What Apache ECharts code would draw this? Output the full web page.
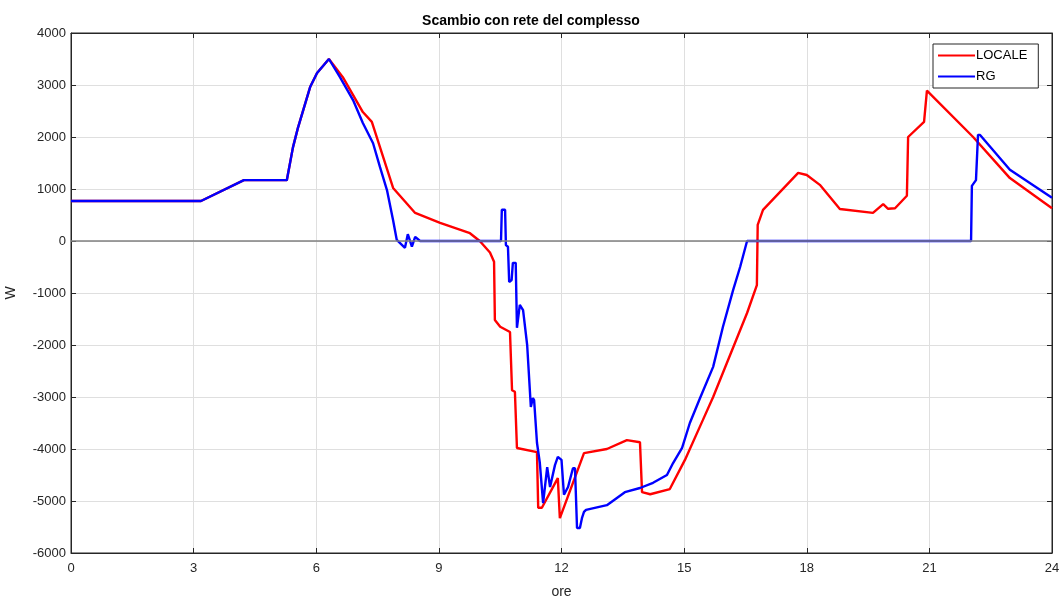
<!DOCTYPE html>
<html>
<head>
<meta charset="utf-8">
<script src="https://cdn.jsdelivr.net/npm/echarts@6/dist/echarts.min.js"></script>
<style>
  html, body { margin: 0; padding: 0; background: #fff; }
  #chart { width: 1062px; height: 598px; }
</style>
</head>
<body>
<div id="chart"></div>
<script>
  // ore / W
  const localeOre = [0, 3.18, 4.23, 5.28, 5.43, 5.55, 5.85, 6.02, 6.31, 6.65, 7.14, 7.36, 7.88, 8.42, 9.03, 9.76, 10.0, 10.25, 10.35, 10.37, 10.5, 10.74, 10.79, 10.86, 10.91, 11.4, 11.43, 11.52, 11.91, 11.96, 12.55, 13.11, 13.6, 13.92, 13.97, 14.17, 14.65, 15.02, 15.46, 15.71, 16.54, 16.78, 16.8, 16.93, 17.79, 18.0, 18.32, 18.81, 19.62, 19.87, 19.99, 20.16, 20.45, 20.48, 20.87, 20.94, 22.07, 22.97, 24]
  const localeW = [770, 770, 1170, 1170, 1800, 2170, 2960, 3230, 3500, 3150, 2480, 2290, 1020, 540, 350, 150, 0, -220, -400, -1520, -1650, -1750, -2870, -2900, -3980, -4060, -5130, -5130, -4560, -5330, -4080, -4000, -3830, -3870, -4830, -4870, -4770, -4210, -3440, -3000, -1385, -850, 310, 600, 1310, 1270, 1080, 615, 540, 710, 620, 630, 870, 2000, 2290, 2890, 2000, 1210, 630]

  const rgOre = [0, 3.18, 4.23, 5.28, 5.43, 5.55, 5.85, 6.02, 6.31, 6.58, 6.9, 7.14, 7.39, 7.56, 7.73, 7.88, 7.97, 8.17, 8.24, 8.34, 8.42, 8.54, 10.52, 10.54, 10.62, 10.64, 10.69, 10.72, 10.78, 10.81, 10.88, 10.91, 10.95, 10.98, 11.06, 11.16, 11.2, 11.25, 11.3, 11.33, 11.4, 11.47, 11.55, 11.65, 11.72, 11.84, 11.91, 12.0, 12.06, 12.16, 12.28, 12.33, 12.38, 12.45, 12.5, 12.55, 12.6, 13.11, 13.55, 13.92, 14.24, 14.58, 14.73, 14.95, 15.14, 15.39, 15.71, 15.95, 16.2, 16.37, 16.54, 22.02, 22.04, 22.14, 22.19, 22.24, 22.97, 24]
  const rgW = [770, 770, 1170, 1170, 1800, 2170, 2960, 3230, 3500, 3150, 2710, 2270, 1880, 1420, 980, 400, 20, -130, 130, -110, 80, 0, 0, 600, 600, -80, -110, -790, -750, -420, -420, -1670, -1670, -1230, -1330, -2000, -2000, -3190, -3020, -3060, -3880, -4270, -5040, -4350, -4730, -4310, -4150, -4210, -4880, -4730, -4370, -4370, -5520, -5520, -5330, -5210, -5170, -5080, -4830, -4750, -4650, -4500, -4270, -3980, -3500, -3020, -2420, -1650, -940, -500, 0, 0, 1060, 1170, 2040, 2040, 1370, 830]

  const pair = (xs, ys) => xs.map((x, i) => [x, ys[i]])

  const chart = echarts.init(document.getElementById('chart'), null, { renderer: 'canvas' })
  const txt = '#262626'
  const font = 'Liberation Sans, Arial, sans-serif'
  const tickSide = { inside: true, length: 5, lineStyle: { color: txt } }

  chart.setOption({
    animation: false,
    textStyle: { fontFamily: font },
    title: {
      text: 'Scambio con rete del complesso',
      left: 'center',
      top: 9,
      textStyle: { fontSize: 14, fontWeight: 'bold', color: '#000', fontFamily: font }
    },
    legend: {
      data: ['LOCALE', 'RG'],
      orient: 'vertical',
      left: 933,
      top: 44,
      padding: [4, 11, 4, 5],
      itemGap: 6,
      itemWidth: 37,
      itemHeight: 2,
      icon: 'rect',
      borderColor: txt,
      borderWidth: 1,
      borderRadius: 0,
      backgroundColor: '#fff',
      textStyle: { fontSize: 13, color: '#000', padding: [0, 0, 0, -4], lineHeight: 15 }
    },
    grid: {
      left: 71, right: 10, top: 33, bottom: 45,
      outerBoundsMode: 'none',
      containLabel: false,
      show: true, borderColor: txt, borderWidth: 1
    },
    xAxis: [{
      type: 'value',
      min: 0, max: 24, interval: 3,
      name: 'ore',
      nameLocation: 'middle',
      nameGap: 32,
      nameTextStyle: { fontSize: 14, color: txt },
      axisLine: { show: true, onZero: false, lineStyle: { color: txt } },
      axisTick: tickSide,
      axisLabel: { fontSize: 13, color: txt, margin: 9 },
      splitLine: { show: true, lineStyle: { color: '#dfdfdf' } }
    }, {
      type: 'value', position: 'top',
      min: 0, max: 24, interval: 3,
      axisLine: { show: true, onZero: false, lineStyle: { color: txt } },
      axisTick: tickSide,
      axisLabel: { show: false },
      splitLine: { show: false }
    }],
    yAxis: [{
      type: 'value',
      min: -6000, max: 4000, interval: 1000,
      name: 'W',
      nameLocation: 'middle',
      nameGap: 53,
      nameTextStyle: { fontSize: 14, color: txt },
      axisLine: { show: true, onZero: false, lineStyle: { color: txt } },
      axisTick: tickSide,
      axisLabel: { fontSize: 13, color: txt, margin: 5, formatter: v => String(v) },
      splitLine: { show: true, lineStyle: { color: '#dfdfdf' } }
    }, {
      type: 'value', position: 'right',
      min: -6000, max: 4000, interval: 1000,
      axisLine: { show: true, onZero: false, lineStyle: { color: txt } },
      axisTick: tickSide,
      axisLabel: { show: false },
      splitLine: { show: false }
    }],
    series: [{
      name: 'zero',
      type: 'line',
      data: [],
      z: 1,
      silent: true,
      markLine: {
        silent: true,
        symbol: 'none',
        label: { show: false },
        lineStyle: { color: '#808080', width: 1.5, type: 'solid' },
        data: [{ yAxis: 0 }]
      }
    }, {
      name: 'LOCALE',
      type: 'line',
      data: pair(localeOre, localeW),
      showSymbol: false,
      symbol: 'none',
      z: 3,
      lineStyle: { color: '#ff0000', width: 2.4 },
      itemStyle: { color: '#ff0000' }
    }, {
      name: 'RG',
      type: 'line',
      data: pair(rgOre, rgW),
      showSymbol: false,
      symbol: 'none',
      z: 4,
      lineStyle: { color: '#0000ff', width: 2.4 },
      itemStyle: { color: '#0000ff' }
    }]
  })
</script>
</body>
</html>
